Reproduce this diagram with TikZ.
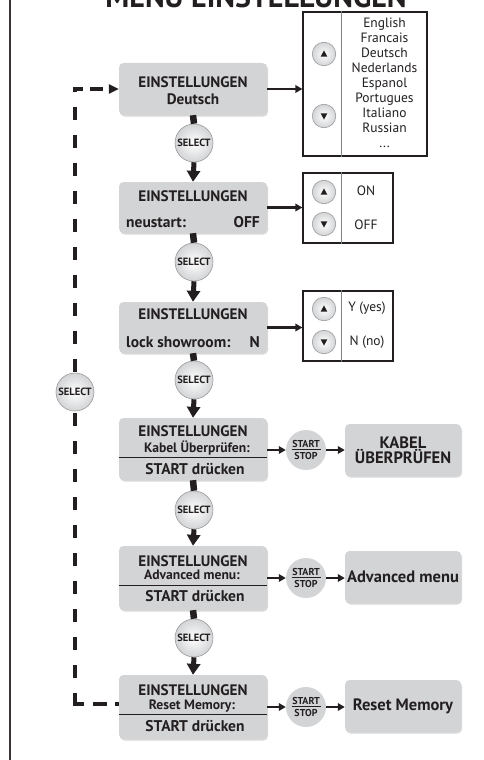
\documentclass[tikz,border=0pt]{standalone}
\usepackage{fontspec}
\setmainfont{PT Sans}
\usetikzlibrary{arrows.meta,shadows,calc}
\definecolor{boxgray}{HTML}{D3D4D6}
\definecolor{ink}{HTML}{231F20}
\definecolor{rim}{HTML}{9A9B9D}
\begin{document}
\begin{tikzpicture}[x=1pt,y=-1pt,
  mbox/.style={fill=boxgray, rounded corners=4.5pt, minimum width=148pt, inner sep=0pt,
    drop shadow={opacity=0.3,shadow xshift=1pt,shadow yshift=-1.5pt}},
  rbox/.style={mbox, minimum width=116pt, minimum height=52pt, align=center, text=ink,
    font=\bfseries\fontsize{16.5}{15}\selectfont},
  sel/.style={circle, minimum size=38pt, inner sep=0pt, draw=rim, line width=0.6pt,
    inner color=white, outer color=boxgray, text=ink, font=\bfseries\fontsize{10.5}{10}\selectfont},
  ss/.style={circle, minimum size=40pt, inner sep=0pt, fill=boxgray, align=center, text=ink,
    font=\bfseries\fontsize{10}{11.5}\selectfont},
  btn/.style={circle, minimum size=23.5pt, inner sep=0pt, draw=rim, line width=0.6pt,
    inner color=white, outer color=boxgray},
  upbtn/.style={btn, path picture={\fill[ink] ($(path picture bounding box.center)+(0,-3.6)$) -- ++(3.3,6.2) -- ++(-6.6,0) -- cycle;}},
  dnbtn/.style={btn, path picture={\fill[ink] ($(path picture bounding box.center)+(0,3.6)$) -- ++(3.3,-6.2) -- ++(-6.6,0) -- cycle;}},
  lbox/.style={draw=ink, line width=1.2pt, fill=white, inner sep=0pt},
  ltxt/.style={inner sep=0pt, text=ink, font=\fontsize{13.5}{15}\selectfont, align=center},
  bt/.style={inner sep=0pt, text=ink, anchor=base, font=\bfseries\fontsize{15.2}{15}\selectfont},
  bt2/.style={bt, font=\bfseries\fontsize{15.5}{15}\selectfont},
  st/.style={inner sep=0pt, text=ink, anchor=base, font=\bfseries\fontsize{13.6}{13}\selectfont},
  stub/.style={line width=6.5pt, ink},
  varr/.style={line width=5pt, ink, -{Triangle[width=13pt,length=11pt]}},
  harr/.style={line width=2.4pt, ink, -{Triangle[width=7.5pt,length=7pt]}},
  dashline/.style={line width=3.5pt, ink},
  divline/.style={ink, line width=0.9pt}
]
\useasboundingbox (0,0) rectangle (483,760);

% frame line and title
\draw[ink!90, line width=2.2pt] (10,-5) -- (10,765);
\node[anchor=base, inner sep=0pt, text=ink, font=\bfseries\fontsize{30}{30}\selectfont] (title) at (256,7.5) {MENU EINSTELLUNGEN};

% main boxes
\node[mbox, minimum height=52pt] (b1) at (193,89) {};
\node[mbox, minimum height=51pt] (b2) at (193,207.5) {};
\node[mbox, minimum height=51pt] (b3) at (193,327.5) {};
\node[mbox, minimum height=62pt] (b4) at (193,449) {};
\node[mbox, minimum height=64pt] (b5) at (193,578) {};
\node[mbox, minimum height=64pt] (b6) at (193,707) {};

% texts in boxes
\node[bt] (t1a) at (193,87) {EINSTELLUNGEN};
\node[bt] (t1b) at (193,104) {Deutsch};
\node[bt] (t2a) at (193,201) {EINSTELLUNGEN};
\node[bt2, anchor=base west] (t2b) at (126,227) {neustart:};
\node[bt2, anchor=base east] (t2c) at (260,227) {OFF};
\node[bt] (t3a) at (193,319) {EINSTELLUNGEN};
\node[bt2, anchor=base west] (t3b) at (126,347) {lock showroom:};
\node[bt2, anchor=base east] (t3c) at (260,347) {N};
\node[bt] (t4a) at (193,436) {EINSTELLUNGEN};
\node[st] (t4b) at (197,452) {Kabel Überprüfen:};
\node[bt2] (t4c) at (195,474) {START drücken};
\node[bt] (t5a) at (193,566) {EINSTELLUNGEN};
\node[st] (t5b) at (192,579.5) {Advanced menu:};
\node[bt2] (t5c) at (195,601.5) {START drücken};
\node[bt] (t6a) at (193,695) {EINSTELLUNGEN};
\node[st] (t6b) at (192,709) {Reset Memory:};
\node[bt2] (t6c) at (195,731.5) {START drücken};
\draw[divline] ($(b4.west)+(0,8)$) -- ($(b4.east)+(0,8)$);
\draw[divline] ($(b5.west)+(0,7)$) -- ($(b5.east)+(0,7)$);
\draw[divline] ($(b6.west)+(0,7)$) -- ($(b6.east)+(0,7)$);

% select circles
\node[sel] (s1) at (194,143) {SELECT};
\node[sel] (s2) at (194,262) {SELECT};
\node[sel] (s3) at (194,380) {SELECT};
\node[sel] (s4) at (194,510) {SELECT};
\node[sel] (s5) at (194,638) {SELECT};
\node[sel] (ls) at (75,392) {SELECT};

% vertical connectors
\draw[stub] (b1.south) -- (s1.north);
\draw[varr] (s1.south) -- (b2.north);
\draw[stub] (b2.south) -- (s2.north);
\draw[varr] (s2.south) -- (b3.north);
\draw[stub] (b3.south) -- (s3.north);
\draw[varr] (s3.south) -- (b4.north);
\draw[stub] (b4.south) -- (s4.north);
\draw[varr] (s4.south) -- (b5.north);
\draw[stub] (b5.south) -- (s5.north);
\draw[varr] (s5.south) -- (b6.north);

% dashed loop
\coordinate (dtop) at (75,89);
\coordinate (dbot) at (75,704);
\draw[dashline, dash pattern=on 13pt off 15pt, dash phase=8pt] ($(dtop)+(0,-1.75)$) -- (ls.north);
\draw[dashline, dash pattern=on 9.75pt off 7pt on 13pt off 30pt, -{Triangle[width=9pt,length=10pt]}] ($(dtop)+(-1.75,0)$) -- (b1.west);
\draw[dashline, dash pattern=on 13pt off 15pt] ($(dbot)+(0,1.75)$) -- (ls.south);
\draw[dashline, dash pattern=on 10.75pt off 9pt on 14pt off 8pt] ($(dbot)+(-1.75,0)$) -- (b6.west |- dbot);

% list boxes
\node[lbox, minimum width=124pt, minimum height=144pt] (L1) at (365,84) {};
\draw[rim!80!ink, line width=0.9pt] ($(L1.north west)+(39,0)$) -- ($(L1.south west)+(39,0)$);
\node[upbtn] (u1) at (324,54) {};
\node[dnbtn] (d1) at (324,116) {};
\node[ltxt] (lt1) at (384.5,83) {English\\Francais\\Deutsch\\Nederlands\\Espanol\\Portugues\\Italiano\\Russian\\...};

\node[lbox, minimum width=90pt, minimum height=70pt] (L2) at (348,208) {};
\draw[rim!80!ink, line width=0.9pt] ($(L2.north west)+(39,0)$) -- ($(L2.south west)+(39,0)$);
\node[upbtn] (u2) at (324,192) {};
\node[dnbtn] (d2) at (324,224) {};
\node[ltxt, anchor=base] (on) at (366,195) {ON};
\node[ltxt, anchor=base] (off) at (366,229) {OFF};

\node[lbox, minimum width=90pt, minimum height=70pt] (L3) at (348,326) {};
\draw[rim!80!ink, line width=0.9pt] ($(L3.north west)+(39,0)$) -- ($(L3.south west)+(39,0)$);
\node[upbtn] (u3) at (324,309) {};
\node[dnbtn] (d3) at (324,342) {};
\node[ltxt, anchor=base] (yes) at (367,311.5) {Y (yes)};
\node[ltxt, anchor=base] (no) at (367,345) {N (no)};

\draw[harr] (b1.east) -- (b1.east -| L1.west);
\draw[harr] (b2.east) -- (b2.east -| L2.west);
\draw[harr] (b3.east) -- (b3.east -| L3.west);

% start/stop and result boxes
\node[ss] (ss4) at (306,450) {START\\STOP};
\node[ss] (ss5) at (306,578) {START\\STOP};
\node[ss] (ss6) at (306,707) {START\\STOP};
\draw[ink, line width=1.2pt] ($(ss4.center)+(-14.5,-0.8)$) -- ++(29,0);
\draw[ink, line width=1.2pt] ($(ss5.center)+(-14.5,-0.8)$) -- ++(29,0);
\draw[ink, line width=1.2pt] ($(ss6.center)+(-14.5,-0.8)$) -- ++(29,0);
\node[rbox] (r4) at (403,450) {KABEL\\ÜBERPRÜFEN};
\node[rbox] (r5) at (403,577) {Advanced menu};
\node[rbox] (r6) at (403,706) {Reset Memory};

\draw[harr] (b4.east |- ss4) -- (ss4.west);
\draw[harr] (ss4.east) -- (r4.west |- ss4);
\draw[harr] (b5.east |- ss5) -- (ss5.west);
\draw[harr] (ss5.east) -- (r5.west |- ss5);
\draw[harr] (b6.east |- ss6) -- (ss6.west);
\draw[harr] (ss6.east) -- (r6.west |- ss6);
\end{tikzpicture}
\end{document}
